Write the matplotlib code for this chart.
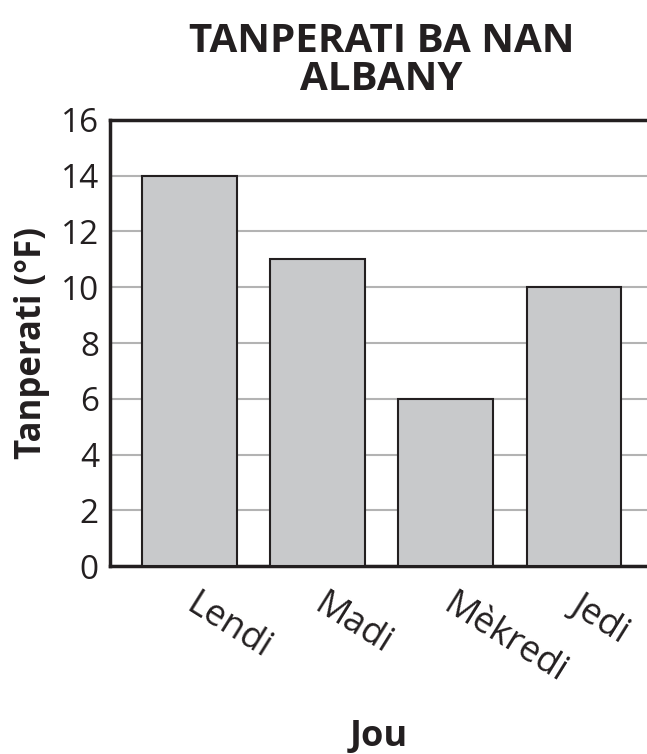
import matplotlib
matplotlib.use("Agg")
import matplotlib.pyplot as plt
import matplotlib.transforms as mtransforms

plt.rcParams['font.family'] = ['Open Sans', 'DejaVu Sans']

days = ["Lendi", "Madi", "Mèkredi", "Jedi"]
temps = [14, 11, 6, 10]
yticks = [0, 2, 4, 6, 8, 10, 12, 14, 16]

fig = plt.figure(figsize=(6.47, 7.54), dpi=100)
ax = fig.add_axes([0.170, 0.249, 0.830, 0.592])

x = range(len(days))
ax.bar(x, temps, width=0.74, color='#c8c9cb', edgecolor='#231f20', linewidth=1.5, zorder=3)

ax.set_ylim(0, 16)
ax.set_xlim(-0.62, 3.57)
ax.set_yticks(yticks)
ax.set_yticklabels([str(v) for v in yticks], fontsize=24, color='#231f20')
ax.yaxis.grid(True, color='#b3b3b3', linewidth=1.5, zorder=0)
ax.set_axisbelow(True)

ax.set_xticks(list(x))
ax.set_xticklabels(days, fontsize=26, rotation=-32, ha='left', va='center',
                   rotation_mode='anchor', color='#231f20')
# nudge the rotated labels a little to the left
shift = mtransforms.ScaledTranslation(-10 / 72, 0, fig.dpi_scale_trans)
for lbl in ax.get_xticklabels():
    lbl.set_transform(lbl.get_transform() + shift)
ax.tick_params(axis='both', length=0)
ax.tick_params(axis='x', pad=26)
ax.tick_params(axis='y', pad=8)

for s in ['left', 'top', 'bottom']:
    ax.spines[s].set_linewidth(2.5)
    ax.spines[s].set_color('#231f20')
ax.spines['right'].set_visible(False)

ax.set_ylabel("Tanperati (°F)", fontsize=25, fontweight='bold', color='#231f20', labelpad=8)
fig.text(0.585, 0.022, "Jou", fontsize=26, fontweight='bold', ha='center', va='center', color='#231f20')
fig.text(0.590, 0.920, "TANPERATI BA NAN\nALBANY", fontsize=29, fontweight='bold',
         ha='center', va='center', color='#231f20', linespacing=0.95)

fig.savefig("out.png", dpi=100)
